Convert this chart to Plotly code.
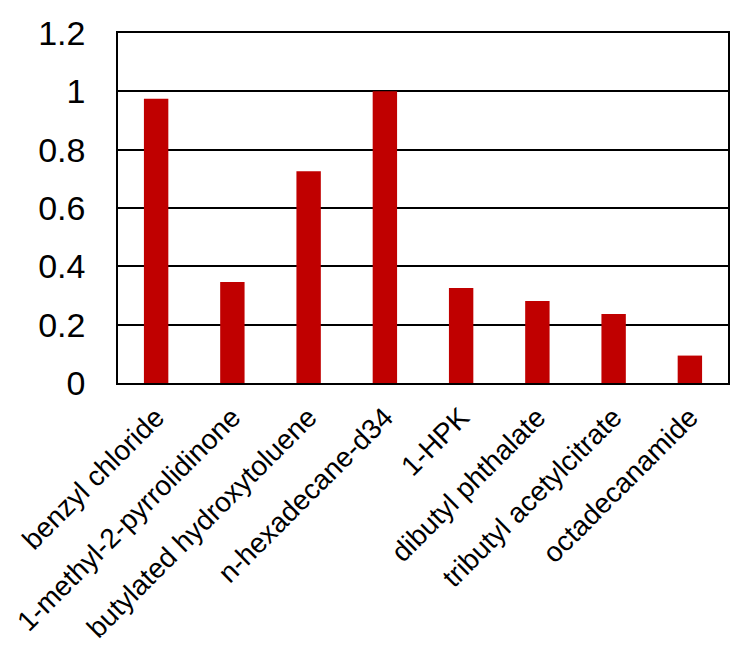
import plotly.graph_objects as go

categories = ["benzyl chloride", "1-methyl-2-pyrrolidinone", "butylated hydroxytoluene",
              "n-hexadecane-d34", "1-HPK", "dibutyl phthalate", "tributyl acetylcitrate",
              "octadecanamide"]
values = [0.975, 0.346, 0.726, 1.0, 0.326, 0.281, 0.237, 0.094]
y_ticks = [0, 0.2, 0.4, 0.6, 0.8, 1, 1.2]
y_tick_labels = ["0", "0.2", "0.4", "0.6", "0.8", "1", "1.2"]

fig = go.Figure(go.Bar(x=categories, y=values, marker=dict(color="#C00000", line=dict(width=0)),
                       width=0.32))

fig.update_layout(
    width=747, height=655,
    margin=dict(l=110, r=27, t=25, b=280),
    paper_bgcolor="white", plot_bgcolor="white",
    font=dict(family="Liberation Sans, Arial, sans-serif", color="black"),
    showlegend=False,
)
fig.update_xaxes(
    tickangle=-45, tickfont=dict(size=28), showline=True, linecolor="black", linewidth=1.5,
    mirror=True, ticks="", showgrid=False, automargin=False, ticklabelstandoff=5,
)
fig.update_yaxes(
    range=[0, 1.2], tickvals=y_ticks, ticktext=y_tick_labels, tickfont=dict(size=34),
    showline=True, linecolor="black", linewidth=1.5, mirror=True, showgrid=True,
    gridcolor="black", gridwidth=1.5, ticks="", zeroline=False, automargin=False,
    ticklabelstandoff=24,
)
fig.write_html("out.html")
